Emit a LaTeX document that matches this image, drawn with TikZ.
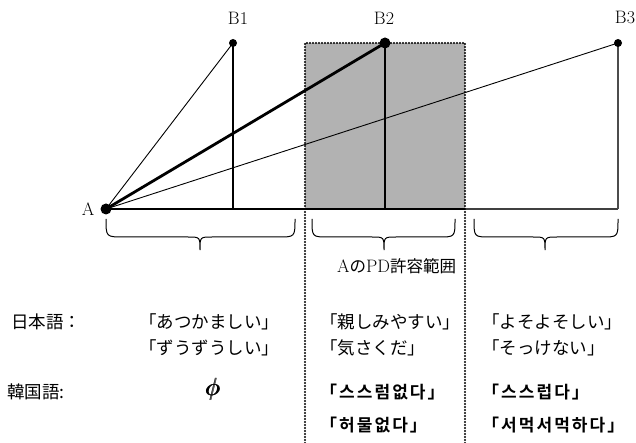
\documentclass[tikz,border=0pt]{standalone}
\usepackage{fontspec}
\newfontfamily\jp{Noto Sans CJK JP}
\newfontfamily\kr{Noto Sans CJK KR}[BoldFont={Noto Sans CJK KR Bold},LetterSpace=12]
\begin{document}
\begin{tikzpicture}[x=1pt,y=-1pt,
  thinline/.style={line width=0.9pt},
  thickline/.style={line width=2.8pt},
  dotline/.style={line width=2.2pt,dash pattern=on 0pt off 3pt,line cap=round},
  bracepath/.style={line width=1pt},
  lbl/.style={font=\fontsize{18}{18}\selectfont,inner sep=0pt},
  jtxt/.style={font=\jp\fontsize{17.5}{17.5}\selectfont,inner sep=0pt,anchor=west},
  ktxt/.style={font=\kr\bfseries\fontsize{17}{17}\selectfont,inner sep=0pt,anchor=west},
  phistyle/.style={inner sep=0pt,font=\fontsize{26}{26}\selectfont}]
\useasboundingbox (0,0) rectangle (636,443);
% points
\coordinate (A) at (106,209);
\coordinate (B1) at (233,43);
\coordinate (B2) at (385,43);
\coordinate (B3) at (618,43);
\coordinate (F1) at (233,209);
\coordinate (F2) at (385,209);
\coordinate (F3) at (618,209);
\coordinate (RL) at (305,43);
\coordinate (RR) at (465,43);
\coordinate (RLb) at (305,443);
\coordinate (RRb) at (465,443);
\coordinate (RLm) at (305,209);
\coordinate (RRm) at (465,209);
% shaded region
\fill[black!30] (RL) rectangle (RRm);
% lines
\draw[line width=1.3pt,black!75] (RRm) -- (F3);
\draw[line width=1.1pt,black!70] (B3) -- (F3);
\draw[line width=2.2pt] (A) -- (RRm);
\draw[thinline] (A) -- (B1);
\draw[line width=1.8pt] (B1) -- (F1);
\draw[thinline] (A) -- (B3);
\draw[thickline] (A) -- (B2);
\draw[thickline] (B2) -- (F2);
% dotted border
\draw[dotline] (RLb) -- (RL) -- (RR) -- (RRb);
% dots
\fill (A) circle (5.5);
\fill (B1) circle (4);
\fill (B2) circle (5.5);
\fill (B3) circle (4);
% labels
\node[lbl] (lA) at (88,209) {A};
\node[lbl] (lB1) at (238,18) {B1};
\node[lbl] (lB2) at (384,18) {B2};
\node[lbl] (lB3) at (625,18) {B3};
% braces
\draw[bracepath] (106,219) .. controls (106,237) .. (124,237) -- (188,237) .. controls (200,237) .. (200,250) .. controls (200,237) .. (212,237) -- (278,237) .. controls (295,237) .. (295,219);
\draw[bracepath] (312,219) .. controls (312,237) .. (328,237) -- (372,237) .. controls (384,237) .. (384,250) .. controls (384,237) .. (396,237) -- (439,237) .. controls (455,237) .. (455,219);
\draw[bracepath] (474,219) .. controls (474,237) .. (490,237) -- (533,237) .. controls (545,237) .. (545,250) .. controls (545,237) .. (557,237) -- (602,237) .. controls (618,237) .. (618,219);
\node[inner sep=0pt,anchor=west] (pd) at (337,266) {\fontsize{18}{18}\selectfont A{\jp\fontsize{16.5}{16.5}\selectfont の}PD{\jp\fontsize{16.5}{16.5}\selectfont 許容範囲}};
% Japanese
\node[jtxt] (jlab) at (11,322) {日本語：};
\node[jtxt] (j1a) at (139,322) {「あつかましい」};
\node[jtxt] (j1b) at (139,348) {「ずうずうしい」};
\node[jtxt] (j2a) at (320,322) {「親しみやすい」};
\node[jtxt] (j2b) at (320,348) {「気さくだ」};
\node[jtxt] (j3a) at (482,322) {「よそよそしい」};
\node[jtxt] (j3b) at (482,348) {「そっけない」};
% Korean
\node[jtxt] (klab) at (7,392) {韓国語:};
\node[phistyle] (phi) at (212,389) {$\phi$};
\node[phistyle] (phib) at (212.7,389) {$\phi$};
\node[phistyle] (phic) at (213.4,389) {$\phi$};
\node[ktxt] (k2a) at (320,392) {「스스럼없다」};
\node[ktxt] (k2b) at (320,425) {「허물없다」};
\node[ktxt] (k3a) at (482,392) {「스스럽다」};
\node[ktxt] (k3b) at (482,425) {「서먹서먹하다」};
\end{tikzpicture}
\end{document}
